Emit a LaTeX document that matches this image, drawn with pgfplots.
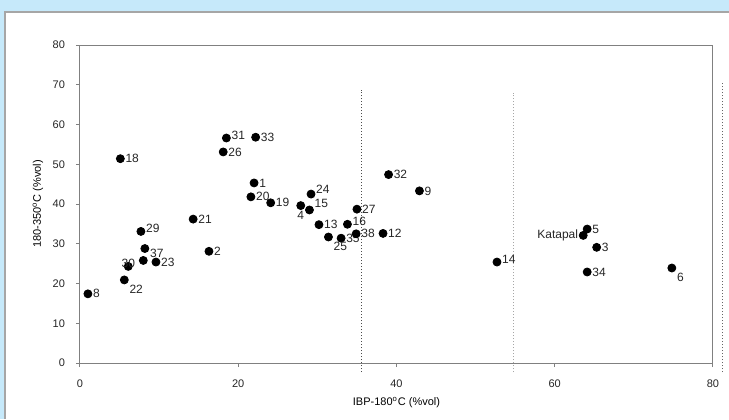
\documentclass[border=0pt]{standalone}
\usepackage{pgfplots}
\pgfplotsset{compat=1.18}
\usepackage{fontspec}
\setmainfont{Liberation Sans}
\definecolor{bgblue}{RGB}{198,233,250}
\definecolor{axgray}{RGB}{128,128,128}
\pgfplotsset{
  pts/.style 2 args={only marks, mark=*, mark size=2pt, black,
    point meta=explicit symbolic, nodes near coords,
    nodes near coords style={anchor=#1, yshift=#2, inner sep=2.4pt, font=\fontsize{6}{7}\selectfont, black!85}},
}
\begin{document}
\begin{tikzpicture}
\fill[bgblue] (-40pt,-28pt) rectangle (324.5pt,181.5pt);
\fill[white] (-37.5pt,-28pt) rectangle (324.5pt,175.5pt);
\draw[gray!70, line width=0.6pt] (-37.5pt,-28pt) -- (-37.5pt,175.5pt) -- (324.5pt,175.5pt);
\begin{axis}[
  at={(0,0)}, anchor=south west,
  scale only axis, width=316.5pt, height=159pt,
  xmin=0, xmax=80, ymin=0, ymax=80,
  xtick={0,20,...,80}, ytick={0,10,...,80},
  tick align=outside, tick pos=left,
  major tick length=2pt,
  axis line style={axgray, line width=0.5pt},
  tick style={axgray, line width=0.5pt},
  clip=false,
  font=\fontsize{5.5}{6.5}\selectfont,
  /pgf/number format/assume math mode=true,
  ticklabel style={black!85},
  xticklabel style={yshift=-3pt},
  yticklabel style={xshift=-2pt},
  xlabel={IBP-180\textsuperscript{o}C (\%vol)},
  ylabel={180-350\textsuperscript{o}C (\%vol)},
  xlabel style={at={(axis description cs:0.5,0)}, anchor=center, yshift=-20pt},
  ylabel style={at={(axis description cs:0,0.5)}, anchor=center, rotate=0, yshift=21pt},
]
\addplot[densely dotted, black!70, line width=0.5pt] coordinates {(35.6,-2.3) (35.6,68.7)};
\addplot[densely dotted, black!35, line width=0.5pt] coordinates {(54.8,-2.3) (54.8,68.0)};
\addplot[densely dotted, black!60, line width=0.5pt] coordinates {(81.2,-2.3) (81.2,70.4)};
\addplot[only marks, mark=*, mark size=2pt, black] coordinates {(8.0,25.8)};
\addplot[pts={west}{0pt}] coordinates {
(1.0,17.4) [8]
(5.1,51.4) [18]
(9.6,25.4) [23]
(14.3,36.2) [21]
(16.3,28.1) [2]
(18.1,53.1) [26]
(21.6,41.8) [20]
(22.0,45.3) [1]
(22.2,56.8) [33]
(24.1,40.3) [19]
(30.2,34.8) [13]
(33.0,31.4) [35]
(34.9,32.5) [38]
(35.0,38.7) [27]
(38.3,32.6) [12]
(39.0,47.4) [32]
(42.9,43.3) [9]
(64.1,33.7) [5]
(64.1,22.9) [34]
(65.3,29.1) [3]
};
\addplot[pts={west}{1.5pt}] coordinates {
(7.7,33.1) [29]
(18.5,56.6) [31]
(33.8,34.9) [16]
(52.7,25.4) [14]
};
\addplot[pts={west}{2.5pt}] coordinates {
(29.2,42.5) [24]
};
\addplot[pts={west}{3.5pt}] coordinates {
(29.0,38.5) [15]
};
\addplot[pts={west}{-2.5pt}] coordinates {
(8.2,28.8) [37]
};
\addplot[pts={north west}{0pt}] coordinates {
(5.6,20.9) [22]
(31.4,31.7) [25]
(74.8,23.9) [6]
};
\addplot[pts={center}{1.5pt}] coordinates {(6.1,24.3) [30]};
\addplot[pts={north}{0pt}] coordinates {(27.9,39.6) [4]};
\addplot[pts={east}{0pt}] coordinates {(63.6,32.1) [Katapal]};
\end{axis}
\pgfresetboundingbox
\path (-40pt,-28pt) rectangle (324.5pt,181.5pt);
\end{tikzpicture}
\end{document}
